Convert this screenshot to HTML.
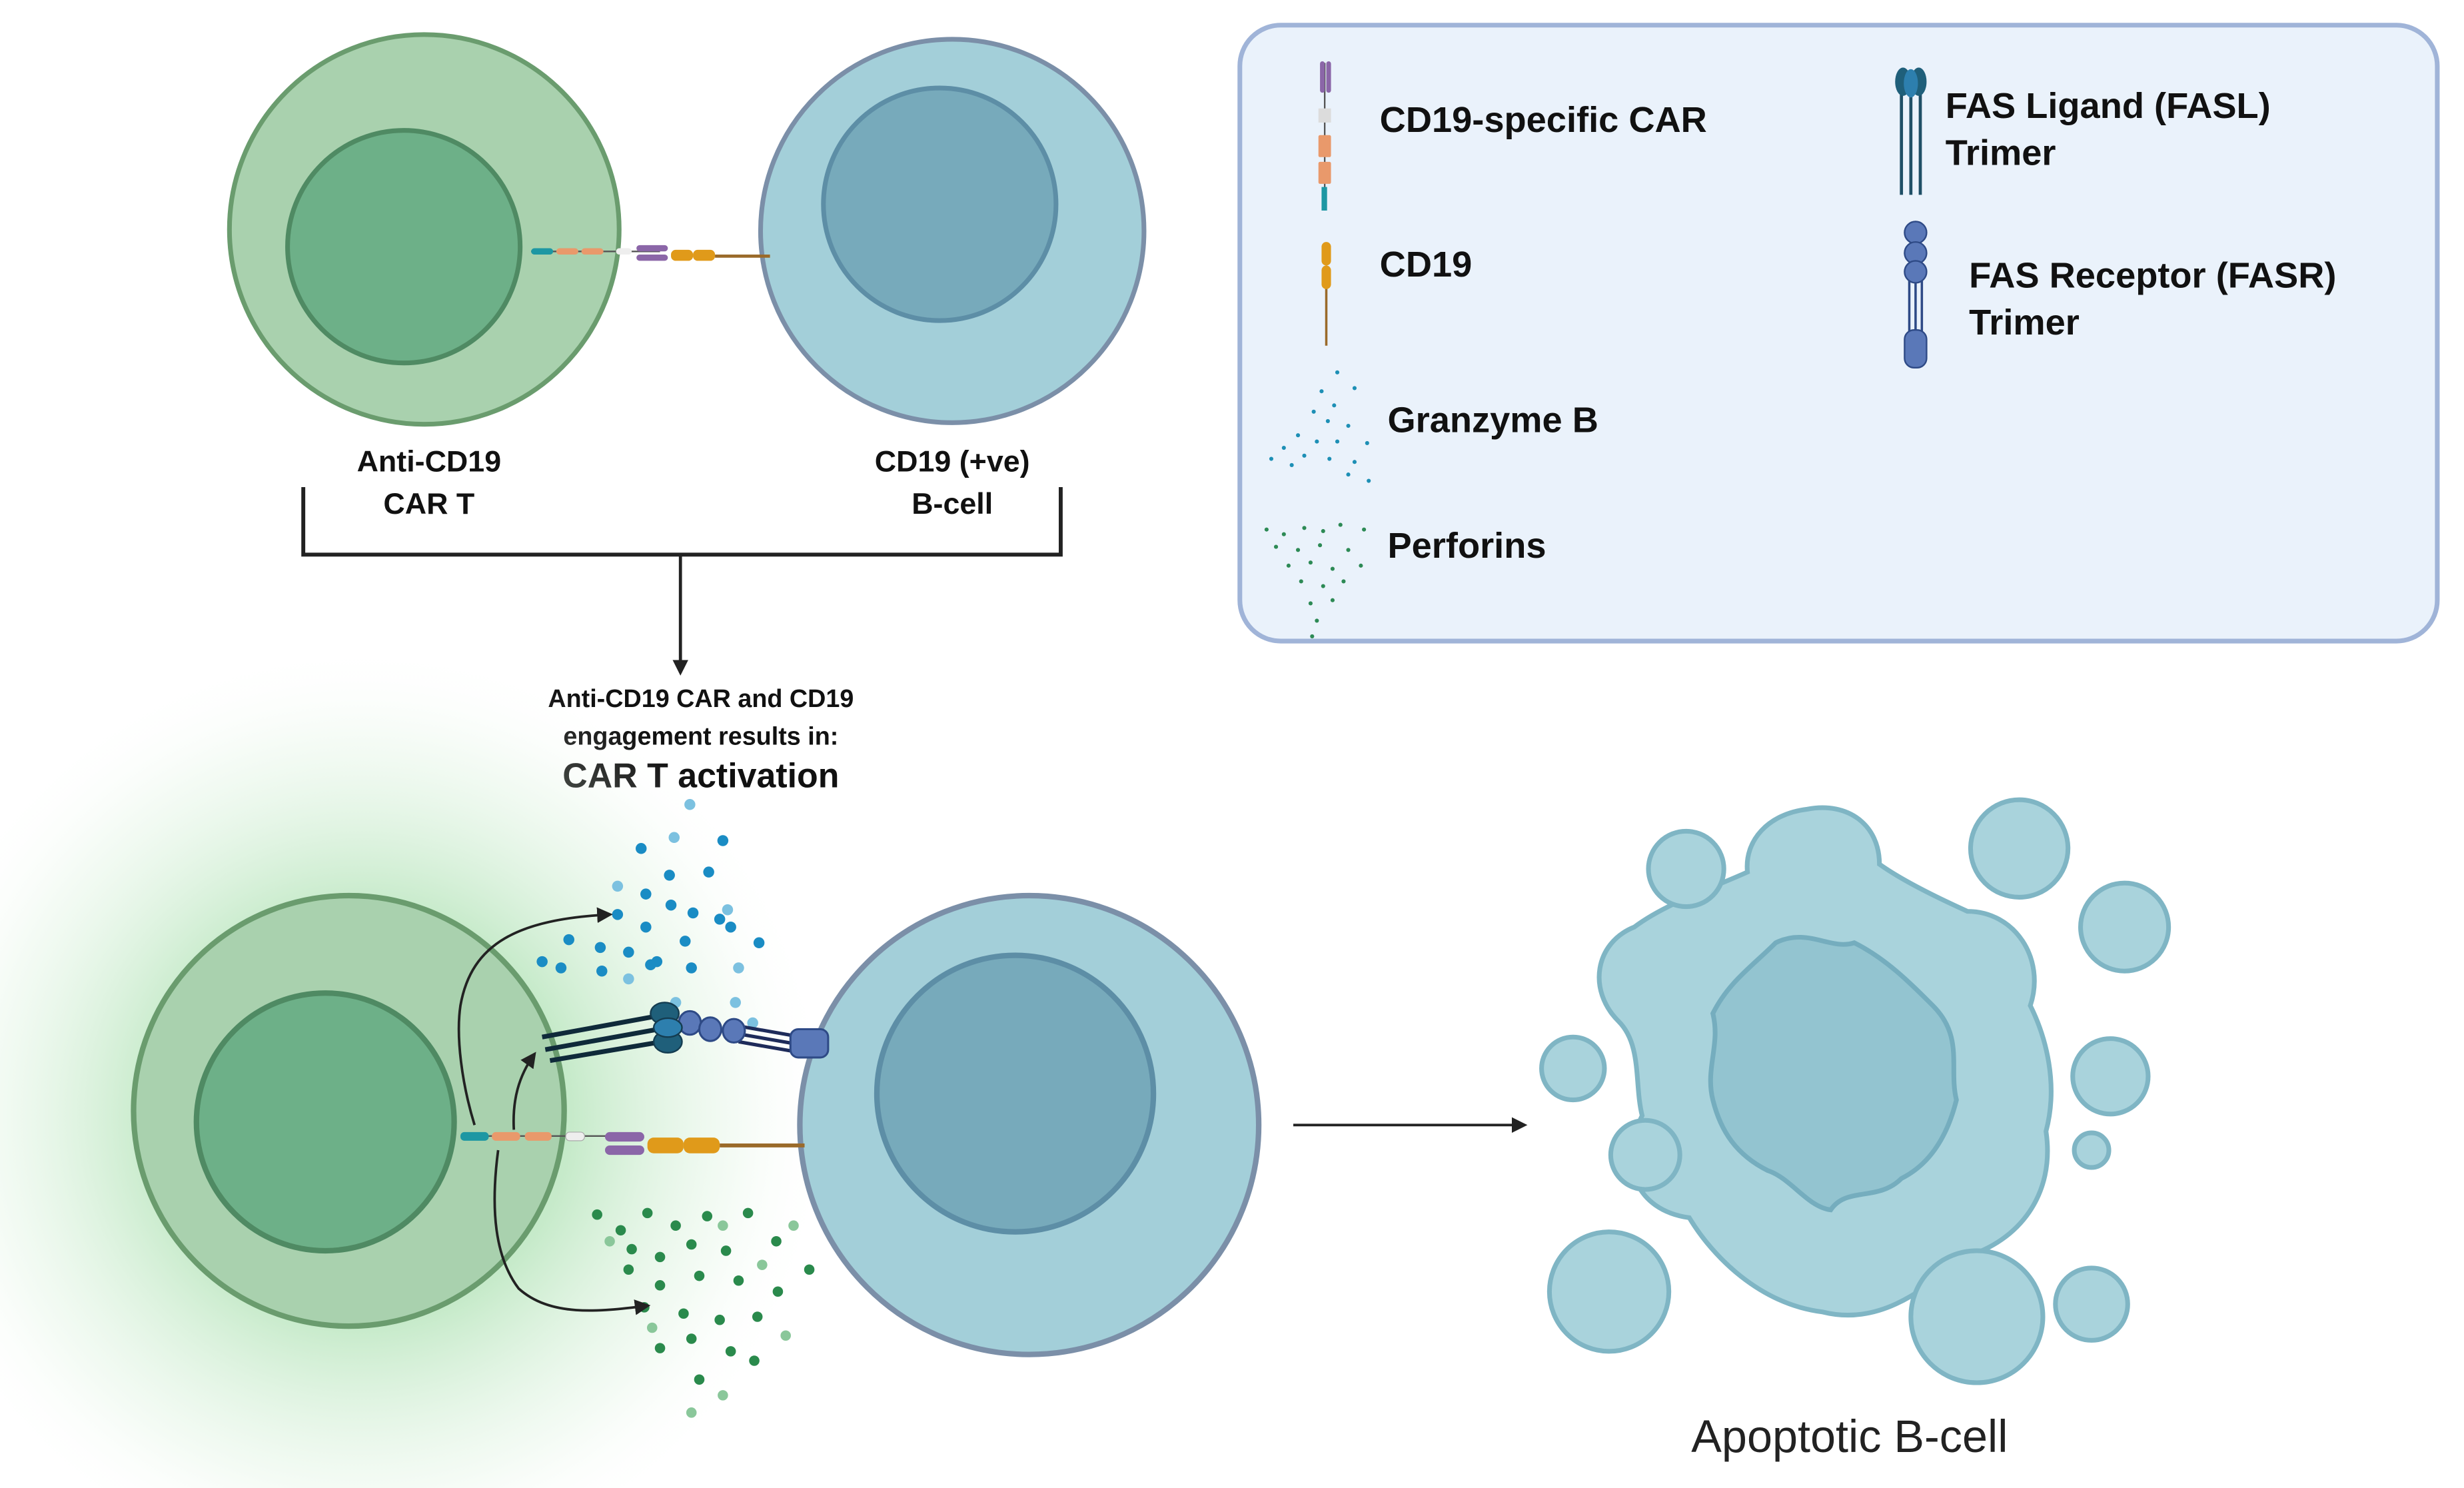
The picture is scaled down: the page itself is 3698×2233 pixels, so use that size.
<!DOCTYPE html>
<html><head><meta charset="utf-8"><style>
html,body{margin:0;padding:0;background:#fff;width:3698px;height:2233px;overflow:hidden}
svg{display:block}
text{font-family:"Liberation Sans",sans-serif}
</style></head><body>
<svg width="3698" height="2233" viewBox="0 0 1568 947" preserveAspectRatio="none" xmlns="http://www.w3.org/2000/svg">
<defs>
<radialGradient id="glow" cx="230" cy="710" r="300" gradientUnits="userSpaceOnUse">
<stop offset="0" stop-color="#5fc46a" stop-opacity="0.8"/>
<stop offset="0.45" stop-color="#8fd696" stop-opacity="0.5"/>
<stop offset="0.8" stop-color="#d6f0d8" stop-opacity="0.25"/>
<stop offset="1" stop-color="#ffffff" stop-opacity="0"/>
</radialGradient>
<marker id="ah" markerWidth="10" markerHeight="10" refX="8" refY="5" orient="auto" markerUnits="userSpaceOnUse">
<path d="M0,0 L10,5 L0,10 Z" fill="#222"/>
</marker>
</defs>

<circle cx="270" cy="146" r="124" fill="#a9d1ae" stroke="#6a9c6e" stroke-width="3"/>
<circle cx="257" cy="157" r="74" fill="#6db088" stroke="#4f8a63" stroke-width="3"/>
<circle cx="606" cy="147" r="122" fill="#a3cfd9" stroke="#7b8fa8" stroke-width="3"/>
<circle cx="598" cy="130" r="74" fill="#77aabb" stroke="#5d8ea6" stroke-width="3"/>
<line x1="338" y1="160" x2="420" y2="160" stroke="#555" stroke-width="1"/>
<rect x="338" y="158" width="14" height="4" rx="2" fill="#1d97a3"/>
<rect x="354" y="158" width="14" height="4" rx="2" fill="#e9996b"/>
<rect x="370" y="158" width="14" height="4" rx="2" fill="#e9996b"/>
<rect x="392" y="158" width="10" height="4" rx="2" fill="#eee"/>
<rect x="405" y="156" width="20" height="4" rx="2" fill="#8b66a8"/>
<rect x="405" y="162" width="20" height="4" rx="2" fill="#8b66a8"/>
<rect x="427" y="159" width="14" height="7" rx="3" fill="#e09a1a"/>
<rect x="441" y="159" width="14" height="7" rx="3" fill="#e09a1a"/>
<line x1="455" y1="163" x2="490" y2="163" stroke="#9a6a2a" stroke-width="2"/>

<text x="273" y="300" font-size="19" font-weight="bold" text-anchor="middle" fill="#111">Anti-CD19</text>
<text x="273" y="327" font-size="19" font-weight="bold" text-anchor="middle" fill="#111">CAR T</text>
<text x="606" y="300" font-size="19" font-weight="bold" text-anchor="middle" fill="#111">CD19 (+ve)</text>
<text x="606" y="327" font-size="19" font-weight="bold" text-anchor="middle" fill="#111">B-cell</text>

<path d="M193,310 V353 H675 V310" fill="none" stroke="#222" stroke-width="2.5"/>
<line x1="433" y1="353" x2="433" y2="428" stroke="#222" stroke-width="2" marker-end="url(#ah)"/>

<text x="446" y="450" font-size="16" font-weight="bold" text-anchor="middle" fill="#111">Anti-CD19 CAR and CD19</text>
<text x="446" y="474" font-size="16" font-weight="bold" text-anchor="middle" fill="#111">engagement results in:</text>
<text x="446" y="501" font-size="22" font-weight="bold" text-anchor="middle" fill="#111">CAR T activation</text>

<rect x="789" y="16" width="762" height="392" rx="26" fill="#eaf2fb" stroke="#a0b4d8" stroke-width="3"/>
<line x1="843" y1="40" x2="843" y2="134" stroke="#555" stroke-width="1"/>
<rect x="840" y="39" width="3" height="20" rx="1.5" fill="#8b66a8"/>
<rect x="844" y="39" width="3" height="20" rx="1.5" fill="#8b66a8"/>
<rect x="839" y="69" width="8" height="9" fill="#dcdcdc"/>
<rect x="839" y="86" width="8" height="14" rx="1" fill="#e9996b"/>
<rect x="839" y="103" width="8" height="14" rx="1" fill="#e9996b"/>
<rect x="841" y="119" width="3.5" height="15" fill="#1d97a3"/>
<text x="878" y="84" font-size="23" font-weight="bold" fill="#111">CD19-specific CAR</text>
<line x1="844" y1="180" x2="844" y2="220" stroke="#9a6a2a" stroke-width="1.5"/>
<rect x="841" y="154" width="6" height="15" rx="3" fill="#e09a1a"/>
<rect x="841" y="169" width="6" height="15" rx="3" fill="#e09a1a"/>
<text x="878" y="176" font-size="23" font-weight="bold" fill="#111">CD19</text>
<g fill="#1d8fb5">
<circle cx="851" cy="237" r="1.3"/><circle cx="841" cy="249" r="1.3"/><circle cx="862" cy="247" r="1.3"/><circle cx="849" cy="258" r="1.3"/><circle cx="836" cy="262" r="1.3"/><circle cx="845" cy="268" r="1.3"/><circle cx="858" cy="271" r="1.3"/><circle cx="826" cy="277" r="1.3"/><circle cx="838" cy="281" r="1.3"/><circle cx="851" cy="281" r="1.3"/><circle cx="870" cy="282" r="1.3"/><circle cx="817" cy="285" r="1.3"/><circle cx="830" cy="290" r="1.3"/><circle cx="846" cy="292" r="1.3"/><circle cx="862" cy="294" r="1.3"/><circle cx="809" cy="292" r="1.3"/><circle cx="822" cy="296" r="1.3"/><circle cx="858" cy="302" r="1.3"/><circle cx="871" cy="306" r="1.3"/>
</g>
<text x="883" y="275" font-size="23" font-weight="bold" fill="#111">Granzyme B</text>
<g fill="#2d8a55">
<circle cx="806" cy="337" r="1.3"/><circle cx="817" cy="340" r="1.3"/><circle cx="830" cy="336" r="1.3"/><circle cx="842" cy="338" r="1.3"/><circle cx="853" cy="334" r="1.3"/><circle cx="868" cy="337" r="1.3"/><circle cx="812" cy="348" r="1.3"/><circle cx="826" cy="350" r="1.3"/><circle cx="840" cy="347" r="1.3"/><circle cx="858" cy="350" r="1.3"/><circle cx="820" cy="360" r="1.3"/><circle cx="834" cy="358" r="1.3"/><circle cx="848" cy="362" r="1.3"/><circle cx="866" cy="360" r="1.3"/><circle cx="828" cy="370" r="1.3"/><circle cx="842" cy="373" r="1.3"/><circle cx="855" cy="370" r="1.3"/><circle cx="834" cy="384" r="1.3"/><circle cx="848" cy="382" r="1.3"/><circle cx="838" cy="395" r="1.3"/><circle cx="835" cy="405" r="1.3"/>
</g>
<text x="883" y="355" font-size="23" font-weight="bold" fill="#111">Perforins</text>
<g stroke="#1f4f66" stroke-width="2"><line x1="1210" y1="55" x2="1210" y2="124"/><line x1="1216" y1="55" x2="1216" y2="124"/><line x1="1222" y1="55" x2="1222" y2="124"/></g>
<ellipse cx="1211" cy="52" rx="5" ry="9" fill="#1f5f7a"/>
<ellipse cx="1221" cy="52" rx="5" ry="9" fill="#1f5f7a"/>
<ellipse cx="1216" cy="53" rx="4.5" ry="9" fill="#2d7fae"/>
<text x="1238" y="75" font-size="23" font-weight="bold" fill="#111">FAS Ligand (FASL)</text>
<text x="1238" y="105" font-size="23" font-weight="bold" fill="#111">Trimer</text>
<g stroke="#2e4a86" stroke-width="1.5"><line x1="1215" y1="175" x2="1215" y2="212"/><line x1="1219" y1="175" x2="1219" y2="212"/><line x1="1223" y1="175" x2="1223" y2="212"/></g>
<g fill="#5a78b8" stroke="#2e4a86" stroke-width="1"><ellipse cx="1219" cy="148" rx="7" ry="7"/><ellipse cx="1219" cy="161" rx="7" ry="7"/><ellipse cx="1219" cy="173" rx="7" ry="7"/><rect x="1212" y="210" width="14" height="24" rx="6"/></g>
<text x="1253" y="183" font-size="23" font-weight="bold" fill="#111">FAS Receptor (FASR)</text>
<text x="1253" y="213" font-size="23" font-weight="bold" fill="#111">Trimer</text>

<circle cx="230" cy="710" r="300" fill="url(#glow)"/>
<circle cx="222" cy="707" r="137" fill="#a9d1ae" stroke="#6a9c6e" stroke-width="3.5"/>
<circle cx="207" cy="714" r="82" fill="#6db088" stroke="#4f8a63" stroke-width="3.5"/>
<circle cx="655" cy="716" r="146" fill="#a3cfd9" stroke="#7b8fa8" stroke-width="3.5"/>
<circle cx="646" cy="696" r="88" fill="#77aabb" stroke="#5d8ea6" stroke-width="3.5"/>

<g fill="#1a8cc4">
<circle cx="408" cy="540" r="3.5"/><circle cx="460" cy="535" r="3.5"/><circle cx="426" cy="557" r="3.5"/><circle cx="451" cy="555" r="3.5"/><circle cx="411" cy="569" r="3.5"/><circle cx="427" cy="576" r="3.5"/><circle cx="441" cy="581" r="3.5"/><circle cx="393" cy="582" r="3.5"/><circle cx="411" cy="590" r="3.5"/><circle cx="458" cy="585" r="3.5"/><circle cx="483" cy="600" r="3.5"/><circle cx="362" cy="598" r="3.5"/><circle cx="382" cy="603" r="3.5"/><circle cx="400" cy="606" r="3.5"/><circle cx="418" cy="612" r="3.5"/><circle cx="436" cy="599" r="3.5"/><circle cx="465" cy="590" r="3.5"/><circle cx="345" cy="612" r="3.5"/><circle cx="357" cy="616" r="3.5"/><circle cx="383" cy="618" r="3.5"/><circle cx="414" cy="614" r="3.5"/><circle cx="440" cy="616" r="3.5"/>
</g>
<g fill="#7cc1e0">
<circle cx="439" cy="512" r="3.5"/><circle cx="429" cy="533" r="3.5"/><circle cx="393" cy="564" r="3.5"/><circle cx="463" cy="579" r="3.5"/><circle cx="400" cy="623" r="3.5"/><circle cx="470" cy="616" r="3.5"/><circle cx="430" cy="638" r="3.5"/><circle cx="468" cy="638" r="3.5"/><circle cx="479" cy="651" r="3.5"/>
</g>
<g fill="#2a8a4c">
<circle cx="380" cy="773" r="3.3"/><circle cx="395" cy="783" r="3.3"/><circle cx="412" cy="772" r="3.3"/><circle cx="430" cy="780" r="3.3"/><circle cx="450" cy="774" r="3.3"/><circle cx="476" cy="772" r="3.3"/><circle cx="402" cy="795" r="3.3"/><circle cx="420" cy="800" r="3.3"/><circle cx="440" cy="792" r="3.3"/><circle cx="462" cy="796" r="3.3"/><circle cx="494" cy="790" r="3.3"/><circle cx="515" cy="808" r="3.3"/><circle cx="400" cy="808" r="3.3"/><circle cx="420" cy="818" r="3.3"/><circle cx="445" cy="812" r="3.3"/><circle cx="470" cy="815" r="3.3"/><circle cx="495" cy="822" r="3.3"/><circle cx="410" cy="832" r="3.3"/><circle cx="435" cy="836" r="3.3"/><circle cx="458" cy="840" r="3.3"/><circle cx="482" cy="838" r="3.3"/><circle cx="440" cy="852" r="3.3"/><circle cx="465" cy="860" r="3.3"/><circle cx="420" cy="858" r="3.3"/><circle cx="445" cy="878" r="3.3"/><circle cx="480" cy="866" r="3.3"/>
</g>
<g fill="#8ac79a">
<circle cx="388" cy="790" r="3.3"/><circle cx="460" cy="780" r="3.3"/><circle cx="505" cy="780" r="3.3"/><circle cx="485" cy="805" r="3.3"/><circle cx="415" cy="845" r="3.3"/><circle cx="460" cy="888" r="3.3"/><circle cx="440" cy="899" r="3.3"/><circle cx="500" cy="850" r="3.3"/>
</g>

<g stroke="#0f2a3a" stroke-width="3"><line x1="345" y1="660" x2="416" y2="647"/><line x1="347" y1="668" x2="419" y2="655"/><line x1="350" y1="675" x2="421" y2="663"/></g>
<g stroke="#1e2b5a" stroke-width="2.2"><line x1="470" y1="653" x2="510" y2="660"/><line x1="470" y1="658" x2="510" y2="665"/><line x1="470" y1="663" x2="510" y2="670"/></g>
<g fill="#5a78b8" stroke="#2e4a86" stroke-width="1.3">
<ellipse cx="439" cy="651" rx="7" ry="7.5"/><ellipse cx="452" cy="655" rx="7" ry="7.5"/><ellipse cx="467" cy="656" rx="7" ry="7.5"/>
<rect x="503" y="655" width="24" height="18" rx="5"/>
</g>
<ellipse cx="423" cy="645" rx="9" ry="7" fill="#1f5f7a" stroke="#143c50" stroke-width="1"/>
<ellipse cx="425" cy="663" rx="9" ry="7" fill="#1f5f7a" stroke="#143c50" stroke-width="1"/>
<ellipse cx="425" cy="654" rx="9" ry="6" fill="#2d7fae" stroke="#143c50" stroke-width="1"/>

<line x1="300" y1="723" x2="388" y2="723" stroke="#555" stroke-width="1"/>
<rect x="293" y="720.5" width="18" height="5.5" rx="2.5" fill="#1d97a3"/>
<rect x="313" y="720.5" width="18" height="5.5" rx="2.5" fill="#e9996b"/>
<rect x="334" y="720.5" width="17" height="5.5" rx="2.5" fill="#e9996b"/>
<rect x="360" y="720.5" width="12" height="5.5" rx="2.5" fill="#eee" stroke="#aaa" stroke-width="0.5"/>
<rect x="385" y="720.5" width="25" height="6" rx="3" fill="#8b66a8"/>
<rect x="385" y="729" width="25" height="6" rx="3" fill="#8b66a8"/>
<rect x="412" y="724" width="23" height="10" rx="4" fill="#e09a1a"/>
<rect x="435" y="724" width="23" height="10" rx="4" fill="#e09a1a"/>
<line x1="458" y1="729" x2="512" y2="729" stroke="#9a6a2a" stroke-width="2.5"/>

<path d="M302,716 C294,690 290,660 293,640 C300,600 330,585 388,582" fill="none" stroke="#222" stroke-width="1.6" marker-end="url(#ah)"/>
<path d="M327,719 C326,700 330,685 340,671" fill="none" stroke="#222" stroke-width="1.6" marker-end="url(#ah)"/>
<path d="M317,732 C312,770 315,800 330,820 C350,838 380,835 412,831" fill="none" stroke="#222" stroke-width="1.6" marker-end="url(#ah)"/>

<line x1="823" y1="716" x2="970" y2="716" stroke="#222" stroke-width="1.6" marker-end="url(#ah)"/>

<g fill="#a9d3dc" stroke="#7fb5c4" stroke-width="3">
<path d="M1040,590 C1015,600 1010,630 1030,650 C1045,665 1040,690 1045,710 C1030,740 1040,770 1075,775 C1090,800 1120,830 1160,835 C1200,845 1230,815 1250,800 C1285,790 1308,760 1302,720 C1310,690 1302,660 1292,640 C1302,610 1282,580 1252,580 C1230,570 1210,560 1196,550 C1196,525 1176,510 1150,515 C1125,518 1110,535 1112,555 C1090,565 1060,575 1040,590 Z"/>
<circle cx="1073" cy="553" r="24"/><circle cx="1285" cy="540" r="31"/><circle cx="1352" cy="590" r="28"/>
<circle cx="1001" cy="680" r="20"/><circle cx="1343" cy="685" r="24"/><circle cx="1331" cy="732" r="11"/>
<circle cx="1047" cy="735" r="22"/><circle cx="1024" cy="822" r="38"/><circle cx="1258" cy="838" r="42"/><circle cx="1331" cy="830" r="23"/>
</g>
<path d="M1130,600 C1150,590 1165,605 1180,600 C1200,610 1215,625 1230,640 C1250,660 1240,680 1245,700 C1240,720 1230,740 1210,750 C1195,765 1175,755 1165,770 C1150,768 1140,750 1125,745 C1105,735 1095,720 1090,700 C1085,680 1095,665 1090,645 C1100,625 1115,615 1130,600 Z" fill="#93c4d0" stroke="#75adbe" stroke-width="3"/>
<text x="1177" y="924" font-size="29" text-anchor="middle" fill="#222">Apoptotic B-cell</text>
</svg>
</body></html>
